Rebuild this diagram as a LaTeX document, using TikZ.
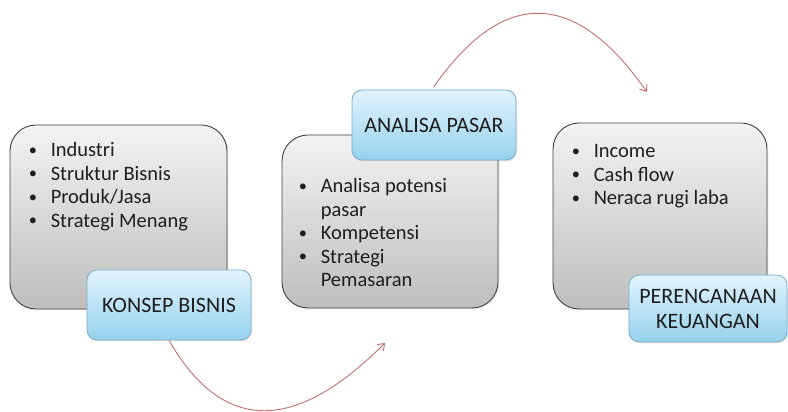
\documentclass[tikz,border=0pt]{standalone}
\usepackage{fontspec}
\setmainfont{Carlito}
\usetikzlibrary{positioning,arrows.meta,shadows}
\definecolor{arcred}{RGB}{192,112,112}
\definecolor{boxline}{RGB}{64,64,64}
\definecolor{boxtop}{RGB}{243,243,243}
\definecolor{boxbot}{RGB}{190,190,190}
\definecolor{lbltop}{RGB}{226,243,252}
\definecolor{lblbot}{RGB}{150,210,236}
\definecolor{lblline}{RGB}{120,172,204}
\definecolor{txt}{RGB}{30,30,30}
\newcommand{\itm}{\makebox[23pt][l]{\hspace{1pt}\raisebox{0.15ex}{\scalebox{0.8}{\textbullet}}}}

\begin{document}
\begin{tikzpicture}[x=1pt,y=1pt,>=stealth,
  bigbox/.style={draw=boxline,line width=0.9pt,rounded corners=26pt,top color=boxtop,bottom color=boxbot,inner sep=0pt,
    drop shadow={opacity=0.15,shadow xshift=1.5pt,shadow yshift=-1.5pt}},
  lblbox/.style={draw=lblline,line width=0.8pt,rounded corners=10pt,top color=lbltop,bottom color=lblbot,align=center,
    text=txt,font=\fontsize{22}{25}\selectfont,drop shadow={opacity=0.2,shadow xshift=1pt,shadow yshift=-1.5pt}},
  items/.style={anchor=base west,inner sep=0pt,text=txt,font=\fontsize{20.5}{23.5}\selectfont},
  flow/.style={arcred,line width=0.9pt,-{Straight Barb[length=6pt,width=9pt]}}]
\useasboundingbox (0,0) rectangle (788,412);

% konsep bisnis
\node[bigbox,minimum width=217pt,minimum height=184pt] (konsep) at (118.5,195) {};
\node[items] (konsepList) at ([shift={(18,-32)}]konsep.north west)
  {\begin{tabular}[t]{@{}l@{}l@{}}
   \itm & Industri\\ \itm & Struktur Bisnis\\ \itm & Produk/Jasa\\ \itm & Strategi Menang
   \end{tabular}};
\node[lblbox,minimum width=164pt,minimum height=70pt] (konsepLbl) at (169,107) {KONSEP BISNIS};

% analisa pasar
\node[bigbox,minimum width=216pt,minimum height=173pt] (analisa) at (390,190.5) {};
\node[items] (analisaList) at ([shift={(16,-58)}]analisa.north west)
  {\begin{tabular}[t]{@{}l@{}l@{}}
   \itm & Analisa potensi\\ & pasar\\ \itm & Kompetensi\\ \itm & Strategi\\ & Pemasaran
   \end{tabular}};
\node[lblbox,minimum width=164pt,minimum height=70pt] (analisaLbl) at (434,287) {ANALISA PASAR};

% perencanaan keuangan
\node[bigbox,minimum width=214pt,minimum height=186pt] (keuangan) at (660,196) {};
\node[items] (keuanganList) at ([shift={(18,-35)}]keuangan.north west)
  {\begin{tabular}[t]{@{}l@{}l@{}}
   \itm & Income\\ \itm & Cash flow\\ \itm & Neraca rugi laba
   \end{tabular}};
\node[lblbox,minimum width=158pt,minimum height=67pt] (keuanganLbl) at (708,103.5) {PERENCANAAN\\KEUANGAN};

% arcs
\coordinate (flowEnd1) at (385,69);
\coordinate (flowEnd2) at (647,320);
\draw[flow] (konsepLbl.south) to[out=-60,in=-135,looseness=1.38] (flowEnd1);
\draw[flow] ([yshift=3pt]analisaLbl.north) to[out=55,in=125,looseness=1.48] (flowEnd2);
\end{tikzpicture}
\end{document}
